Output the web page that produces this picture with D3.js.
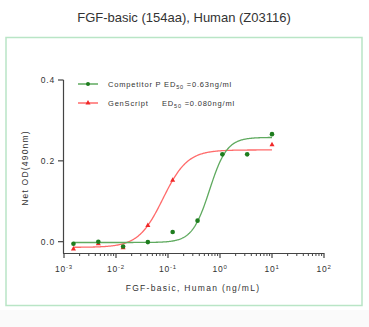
<!DOCTYPE html>
<html><head><meta charset="utf-8">
<script src="https://cdn.jsdelivr.net/npm/d3@7"></script>
<style>
body{margin:0;background:#fff;}
text{font-family:"Liberation Sans",Arial,sans-serif;}
</style></head>
<body><svg id="c" width="369" height="327"></svg>
<script>
const concentrations = [0.00152, 0.00457, 0.0137, 0.041, 0.123, 0.37, 1.11, 3.33, 10];
const competitorOD = [-0.005, 0.0, -0.012, -0.001, 0.024, 0.052, 0.216, 0.216, 0.266];
const genscriptConc = [0.00152, 0.00457, 0.0137, 0.041, 0.123, 10];
const genscriptOD = [-0.018, -0.005, -0.015, 0.040, 0.152, 0.240];
// fitted 4PL parameters [bottom, top, EC50, hill]
const competitorFit = [-0.002, 0.258, 0.63, 2.6];
const genscriptFit = [-0.014, 0.227, 0.080, 1.85];
const yTicks = [0.0, 0.2, 0.4];
const xTickExps = [-3, -2, -1, 0, 1, 2];

const svg = d3.select("#c");
svg.append("rect").attr("x",0).attr("y",310).attr("width",369).attr("height",17).attr("fill","#fafafa");
svg.append("rect").attr("x",6).attr("y",37.5).attr("width",356).attr("height",268)
  .attr("fill","#fff").attr("stroke","#b9e5c6").attr("stroke-width",1.5);
svg.append("text").attr("x",184).attr("y",22).attr("text-anchor","middle")
  .attr("font-size",13).attr("fill","#333").text("FGF-basic (154aa), Human (Z03116)");

const x = d3.scaleLog().domain([1e-3,1e2]).range([64,324]);
const y = d3.scaleLinear().domain([-0.028,0.4]).range([253,80]);

const axCol = "#444";
// y axis
svg.append("line").attr("x1",63.5).attr("x2",63.5).attr("y1",y(0.4)).attr("y2",253.5).attr("stroke",axCol).attr("stroke-width",1.2);
yTicks.forEach(t=>{
  svg.append("line").attr("x1",58).attr("x2",63.5).attr("y1",y(t)).attr("y2",y(t)).attr("stroke",axCol).attr("stroke-width",1.2);
  svg.append("text").attr("x",55).attr("y",y(t)+3).attr("text-anchor","end").attr("font-size",8.5)
    .attr("letter-spacing",0.8).attr("fill","#333").text(t.toFixed(1));
});
// x axis
svg.append("line").attr("x1",63).attr("x2",324.5).attr("y1",253.5).attr("y2",253.5).attr("stroke",axCol).attr("stroke-width",1.2);
for(let e=-3;e<2;e++){
  for(let m=2;m<10;m++){
    const v=m*Math.pow(10,e);
    svg.append("line").attr("x1",x(v)).attr("x2",x(v)).attr("y1",253.5).attr("y2",256).attr("stroke",axCol).attr("stroke-width",1);
  }
}
xTickExps.forEach(e=>{
  const xv=x(Math.pow(10,e));
  svg.append("line").attr("x1",xv).attr("x2",xv).attr("y1",253.5).attr("y2",258).attr("stroke",axCol).attr("stroke-width",1.2);
  const t=svg.append("text").attr("x",xv).attr("y",272).attr("text-anchor","middle").attr("font-size",8.5)
    .attr("letter-spacing",0.8).attr("fill","#333");
  t.append("tspan").text("10");
  t.append("tspan").attr("dy",-3.5).attr("font-size",6).text(e);
});
svg.append("text").attr("x",193).attr("y",291).attr("text-anchor","middle").attr("font-size",8.5)
  .attr("letter-spacing",1.3).attr("fill","#333").text("FGF-basic, Human (ng/mL)");
svg.append("text").attr("transform","translate(28,168) rotate(-90)").attr("text-anchor","middle").attr("font-size",8.5)
  .attr("letter-spacing",1.2).attr("fill","#333").text("Net OD(490nm)");

function fit(p){return c=>p[0]+(p[1]-p[0])/(1+Math.pow(p[2]/c,p[3]));}
const grid=d3.range(0,301).map(i=>Math.pow(10,Math.log10(0.00152)+i*(Math.log10(10)-Math.log10(0.00152))/300));
const line=f=>d3.line().x(c=>x(c)).y(c=>y(f(c)))(grid);

const gCol="#1e7d1e", gLine="#5faa5f", rCol="#f02828", rLine="#ff6b6b";
svg.append("path").attr("d",line(fit(genscriptFit))).attr("fill","none").attr("stroke",rLine).attr("stroke-width",1.3);
svg.append("path").attr("d",line(fit(competitorFit))).attr("fill","none").attr("stroke",gLine).attr("stroke-width",1.3);

const tri=d3.symbol().type(d3.symbolTriangle).size(11);
genscriptConc.forEach((c,i)=>{
  svg.append("path").attr("d",tri).attr("transform",`translate(${x(c)},${y(genscriptOD[i])})`).attr("fill",rCol);
});
concentrations.forEach((c,i)=>{
  svg.append("circle").attr("cx",x(c)).attr("cy",y(competitorOD[i])).attr("r",2.3).attr("fill",gCol);
});

// legend
svg.append("line").attr("x1",78).attr("x2",98).attr("y1",84).attr("y2",84).attr("stroke",gLine).attr("stroke-width",1.5);
svg.append("circle").attr("cx",88).attr("cy",84).attr("r",2).attr("fill",gCol);
svg.append("line").attr("x1",78).attr("x2",98).attr("y1",103).attr("y2",103).attr("stroke",rLine).attr("stroke-width",1.5);
svg.append("path").attr("d",tri).attr("transform","translate(88,103)").attr("fill",rCol);

const l1=svg.append("text").attr("x",108).attr("y",87).attr("font-size",7.5).attr("letter-spacing",0.8).attr("fill","#333");
l1.append("tspan").text("Competitor P ED");
l1.append("tspan").attr("dy",2).attr("font-size",5.5).text("50");
l1.append("tspan").attr("dy",-2).text(" =0.63ng/ml");
svg.append("text").attr("x",108).attr("y",106).attr("font-size",7.5).attr("letter-spacing",0.8).attr("fill","#333").text("GenScript");
const l2=svg.append("text").attr("x",162).attr("y",106).attr("font-size",7.5).attr("letter-spacing",0.8).attr("fill","#333");
l2.append("tspan").text("ED");
l2.append("tspan").attr("dy",2).attr("font-size",5.5).text("50");
l2.append("tspan").attr("dy",-2).text(" =0.080ng/ml");
</script></body></html>
